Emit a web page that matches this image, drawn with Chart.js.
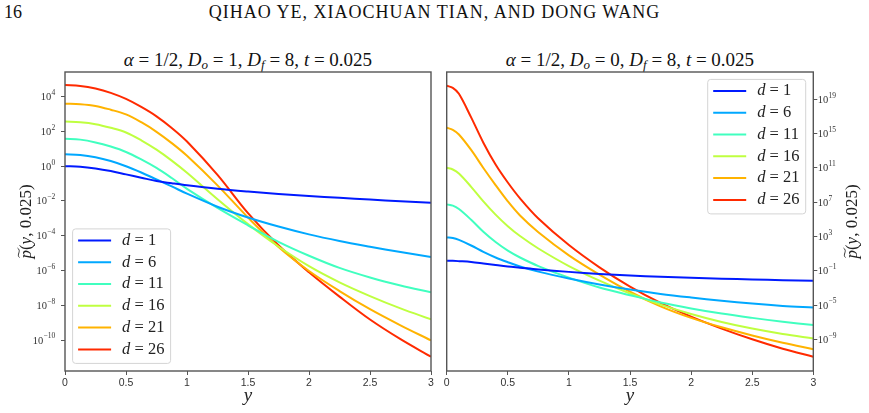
<!DOCTYPE html>
<html>
<head>
<meta charset="utf-8">
<script src="https://cdn.jsdelivr.net/npm/chart.js@4.4.1/dist/chart.umd.min.js"></script>
<style>
  body { margin: 0; background: #fff; width: 869px; height: 413px; position: relative; overflow: hidden;
         font-family: "Liberation Serif", serif; color: #111; }
  .abs { position: absolute; white-space: nowrap; }
  .hdr { top: 2px; font-size: 18px; line-height: 20px; }
  .ttl { top: 49px; font-size: 19px; line-height: 21px; width: 440px; text-align: center; }
  .ttl sub { font-size: 13px; vertical-align: -3px; line-height: 0; }
  canvas { position: absolute; top: 40px; }
</style>
</head>
<body>
<div class="abs hdr" style="left:4px">16</div>
<div class="abs hdr" style="left:0;width:869px;text-align:center;letter-spacing:1px">QIHAO YE, XIAOCHUAN TIAN, AND DONG WANG</div>
<div class="abs ttl" style="left:28px"><i>α</i> = 1/2, <i>D<sub>o</sub></i> = 1, <i>D<sub>f</sub></i> = 8, <i>t</i> = 0.025</div>
<div class="abs ttl" style="left:410px"><i>α</i> = 1/2, <i>D<sub>o</sub></i> = 0, <i>D<sub>f</sub></i> = 8, <i>t</i> = 0.025</div>
<canvas id="left" width="440" height="373" style="left:0"></canvas>
<canvas id="right" width="429" height="373" style="left:440px"></canvas>
<script>
// legend entries and their colours (jet colormap samples)
const dValues = [1, 6, 11, 16, 21, 26];
const colors = ['#001aff', '#00a8ff', '#40ffbf', '#bfff40', '#ffb300', '#ff2a00'];

// left panel, D_o = 1 : log10 p~(y, 0.025)
const leftX   = [0, 0.125, 0.25, 0.375, 0.5, 0.625, 0.75, 0.875, 1, 1.25, 1.5, 1.75, 2, 2.25, 2.5, 2.75, 3];
const leftD1  = [0, -0.03, -0.13, -0.28, -0.47, -0.66, -0.85, -0.98, -1.1, -1.3, -1.46, -1.6, -1.72, -1.82, -1.92, -2.01, -2.1];
const leftD6  = [0.69, 0.65, 0.52, 0.3, 0.0, -0.36, -0.76, -1.16, -1.58, -2.33, -2.95, -3.47, -3.92, -4.3, -4.63, -4.94, -5.22];
const leftD11 = [1.58, 1.53, 1.37, 1.13, 0.82, 0.39, -0.1, -0.68, -1.3, -2.4, -3.4, -4.35, -5.15, -5.85, -6.4, -6.86, -7.25];
const leftD16 = [2.57, 2.53, 2.42, 2.21, 1.94, 1.49, 0.95, 0.32, -0.38, -1.9, -3.33, -4.62, -5.75, -6.68, -7.47, -8.18, -8.81];
const leftD21 = [3.6, 3.57, 3.47, 3.25, 2.98, 2.53, 1.98, 1.33, 0.6, -1.1, -2.95, -4.65, -6.03, -7.18, -8.22, -9.15, -10.02];
const leftD26 = [4.67, 4.62, 4.47, 4.22, 3.87, 3.41, 2.87, 2.2, 1.42, -0.5, -2.7, -4.55, -6.1, -7.5, -8.82, -9.95, -10.96];

// right panel, D_o = 0
const rightX   = [0, 0.05, 0.1, 0.2, 0.3, 0.4, 0.5, 0.6, 0.75, 1, 1.25, 1.5, 1.75, 2, 2.25, 2.5, 2.75, 3];
const rightD1  = [0.17, 0.16, 0.12, 0.02, -0.15, -0.33, -0.5, -0.64, -0.85, -1.13, -1.37, -1.55, -1.7, -1.82, -1.92, -2.01, -2.1, -2.17];
const rightD6  = [2.89, 2.82, 2.6, 1.95, 1.2, 0.55, 0.0, -0.5, -1.1, -1.9, -2.6, -3.2, -3.7, -4.12, -4.5, -4.83, -5.1, -5.3];
const rightD11 = [6.75, 6.6, 6.2, 4.95, 3.55, 2.35, 1.35, 0.55, -0.45, -1.8, -2.95, -3.85, -4.7, -5.4, -6.0, -6.5, -6.95, -7.34];
const rightD16 = [11.02, 10.82, 10.35, 8.8, 7.1, 5.55, 4.2, 3.05, 1.6, -0.45, -2.15, -3.65, -4.95, -6.05, -6.98, -7.75, -8.38, -8.9];
const rightD21 = [15.69, 15.45, 14.9, 13.1, 11.0, 9.0, 7.1, 5.45, 3.5, 0.8, -1.45, -3.45, -5.15, -6.5, -7.6, -8.55, -9.4, -10.15];
const rightD26 = [20.59, 20.35, 19.65, 16.9, 13.95, 11.4, 9.3, 7.45, 5.1, 2.0, -0.6, -2.85, -4.75, -6.35, -7.75, -9.0, -10.1, -11.04];

// ticks
const xTicks = [0, 0.5, 1, 1.5, 2, 2.5, 3];
const leftExps = [-10, -8, -6, -4, -2, 0, 2, 4];
const rightExps = [-9, -5, -1, 3, 7, 11, 15, 19];

const SUP = {'-': '\u207b', '0': '\u2070', '1': '\u00b9', '2': '\u00b2', '3': '\u00b3', '4': '\u2074',
             '5': '\u2075', '6': '\u2076', '7': '\u2077', '8': '\u2078', '9': '\u2079'};
const sup = n => String(n).split('').map(c => SUP[c]).join('');

function series(xs, logs) {
  return xs.map((x, i) => ({x: x, y: Math.pow(10, logs[i])}));
}

function datasets(xs, rows) {
  return rows.map((r, i) => ({
    label: 'd = ' + dValues[i],
    data: series(xs, r),
    borderColor: colors[i],
    borderWidth: 2,
    pointRadius: 0,
    fill: false,
    tension: 0.35
  }));
}

// frame round the plotting area
const frame = {
  id: 'frame',
  afterDraw(chart) {
    const {ctx, chartArea: a} = chart;
    ctx.save();
    ctx.strokeStyle = '#555';
    ctx.lineWidth = 1.4;
    ctx.strokeRect(a.left, a.top, a.right - a.left, a.bottom - a.top);
    ctx.restore();
  }
};

// 10^n labels with a raised, smaller exponent
const expLabels = {
  id: 'expLabels',
  afterDraw(chart) {
    const {ctx, chartArea: a} = chart;
    const s = chart.scales.y;
    ctx.save();
    ctx.fillStyle = '#333';
    ctx.textBaseline = 'alphabetic';
    s.ticks.forEach(t => {
      const e = String(Math.round(Math.log10(t.value))).replace('-', '\u2212');
      const py = s.getPixelForValue(t.value);
      ctx.font = '10.5px "Liberation Serif"';
      const bw = ctx.measureText('10').width;
      ctx.font = '7.5px "Liberation Serif"';
      const ew = ctx.measureText(e).width;
      const x0 = s.position === 'left' ? a.left - 10 - bw - ew : a.right + 4.5;
      ctx.font = '10.5px "Liberation Serif"';
      ctx.fillText('10', x0, py + 3.5);
      ctx.font = '7.5px "Liberation Serif"';
      ctx.fillText(e, x0 + bw + 0.3, py - 1.6);
    });
    ctx.restore();
  }
};

// matplotlib-style legend box inside the axes
const boxLegend = {
  id: 'boxLegend',
  afterDatasetsDraw(chart, args, opts) {
    const {ctx, chartArea: a} = chart;
    const sets = chart.data.datasets;
    const w = 98, rowH = 21.8, h = 134.5;
    const x0 = opts.corner === 'ne' ? a.right - 7.6 - w : a.left + 7.6;
    const y0 = opts.corner === 'ne' ? a.top + 7.4 : a.bottom - 7.6 - h;
    ctx.save();
    ctx.beginPath();
    ctx.roundRect(x0, y0, w, h, 3);
    ctx.fillStyle = 'rgba(255,255,255,0.8)';
    ctx.fill();
    ctx.strokeStyle = '#d4d4d4';
    ctx.lineWidth = 1;
    ctx.stroke();
    sets.forEach((ds, i) => {
      const yy = y0 + 11.5 + i * rowH;
      ctx.beginPath();
      ctx.moveTo(x0 + 5.5, yy);
      ctx.lineTo(x0 + 38.5, yy);
      ctx.strokeStyle = ds.borderColor;
      ctx.lineWidth = 2;
      ctx.stroke();
      ctx.fillStyle = '#222';
      ctx.textBaseline = 'middle';
      ctx.font = 'italic 16.5px "Liberation Serif"';
      ctx.fillText('d', x0 + 49.5, yy);
      const dw = ctx.measureText('d').width;
      ctx.font = '16.5px "Liberation Serif"';
      ctx.fillText(' = ' + dValues[i], x0 + 49.5 + dw, yy);
    });
    ctx.restore();
  }
};

// vertical axis label, reading bottom to top on both panels
const sideLabel = {
  id: 'sideLabel',
  afterDraw(chart, args, opts) {
    const {ctx, chartArea: a} = chart;
    const parts = [['p', 'italic '], ['(', ''], ['y', 'italic '], [', 0.025)', '']];
    ctx.save();
    let total = 0;
    parts.forEach(p => { ctx.font = p[1] + '17px "Liberation Serif"'; total += ctx.measureText(p[0]).width; });
    ctx.translate(opts.x, (a.top + a.bottom) / 2);
    ctx.rotate(-Math.PI / 2);
    ctx.fillStyle = '#222';
    ctx.strokeStyle = '#222';
    ctx.textBaseline = 'alphabetic';
    let cx = -total / 2;
    parts.forEach((p, i) => {
      ctx.font = p[1] + '17px "Liberation Serif"';
      ctx.fillText(p[0], cx, 0);
      const pw = ctx.measureText(p[0]).width;
      if (i === 0) {
        // wide tilde over the p
        ctx.beginPath();
        ctx.lineWidth = 0.9;
        const tx = cx + 1, ty = -12.5, tw = pw + 1;
        ctx.moveTo(tx, ty + 1);
        ctx.bezierCurveTo(tx + tw * 0.3, ty - 2.5, tx + tw * 0.7, ty + 3.5, tx + tw, ty - 1);
        ctx.stroke();
      }
      cx += pw;
    });
    ctx.restore();
  }
};

function options(side, exps, minExp, maxExp, legendCorner, labelX) {
  return {
    responsive: false,
    animation: false,
    layout: {padding: side === 'left'
      ? {left: 0, right: 9, top: 32, bottom: 0}
      : {left: 6.7, right: 0, top: 32, bottom: 0}},
    plugins: {
      legend: {display: false},
      tooltip: {enabled: false},
      boxLegend: {corner: legendCorner},
      sideLabel: {x: labelX}
    },
    scales: {
      x: {
        type: 'linear',
        min: 0,
        max: 3,
        afterBuildTicks: s => { s.ticks = xTicks.map(v => ({value: v})); },
        afterFit: s => { s.height = 42; s.paddingLeft = 0; s.paddingRight = 0; },
        border: {display: false},
        grid: {drawOnChartArea: false, drawTicks: true, tickLength: 4, color: '#555'},
        ticks: {color: '#333', padding: 2, maxRotation: 0, autoSkip: false,
                font: {family: 'Liberation Sans', size: 10.5},
                callback: v => String(v)},
        title: {display: true, text: 'y', color: '#222', padding: {top: 0, bottom: 6},
                font: {family: 'Liberation Serif', style: 'italic', size: 19}}
      },
      y: {
        type: 'logarithmic',
        position: side,
        min: Math.pow(10, minExp),
        max: Math.pow(10, maxExp),
        afterBuildTicks: s => { s.ticks = exps.map(e => ({value: Math.pow(10, e)})); },
        afterFit: s => { s.width = side === 'left' ? 65 : 55.7; s.paddingTop = 0; s.paddingBottom = 0; },
        border: {display: false},
        grid: {drawOnChartArea: false, drawTicks: true, tickLength: 4, color: '#555'},
        ticks: {display: false, autoSkip: false,
                callback: v => '10' + sup(Math.round(Math.log10(v)))}
      }
    }
  };
}

new Chart(document.getElementById('left'), {
  type: 'line',
  data: {datasets: datasets(leftX, [leftD1, leftD6, leftD11, leftD16, leftD21, leftD26])},
  options: options('left', leftExps, -11.78, 5.42, 'sw', 31),
  plugins: [frame, expLabels, boxLegend, sideLabel]
});

new Chart(document.getElementById('right'), {
  type: 'line',
  data: {datasets: datasets(rightX, [rightD1, rightD6, rightD11, rightD16, rightD21, rightD26])},
  options: options('right', rightExps, -12.7, 22.2, 'ne', 417),
  plugins: [frame, expLabels, boxLegend, sideLabel]
});
</script>
</body>
</html>
